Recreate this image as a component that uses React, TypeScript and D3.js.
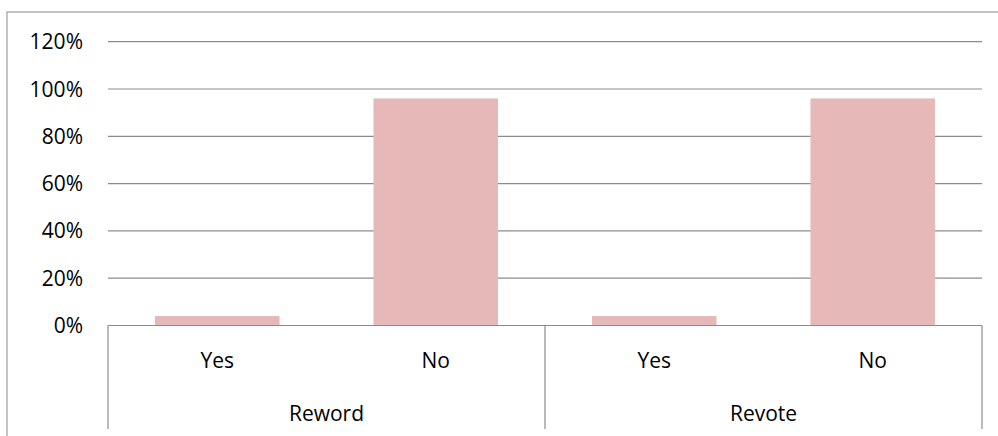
import React from "react";
import * as d3 from "d3";

const groups = ["Reword", "Revote"];
const answers = ["Yes", "No"];
const rewordValues = [0.04, 0.96];
const revoteValues = [0.04, 0.96];
const yTicks = [0, 0.2, 0.4, 0.6, 0.8, 1.0, 1.2];

const W = 998;
const H = 436;
const left = 108;
const right = 982;
const top = 41.7;
const bottom = 325.5;
const font = "'Open Sans', 'Liberation Sans', sans-serif";
const fs = 21;

export default function App() {
  const seriesByGroup = [rewordValues, revoteValues];
  const rows = groups.flatMap((g, gi) =>
    answers.map((a, ai) => ({ key: `${g}-${a}`, group: g, answer: a, value: seriesByGroup[gi][ai] }))
  );
  const x = d3.scaleBand<string>().domain(rows.map((r) => r.key)).range([left, right]).paddingInner(0.43).paddingOuter(0.215);
  const xGroup = d3.scaleBand<string>().domain(groups).range([left, right]);
  const y = d3.scaleLinear().domain([0, 1.2]).range([bottom, top]);
  const fmt = d3.format(".0%");
  const grid = "#8c8c8c";
  const axisBottom = 429;

  return (
    <svg width={W} height={H} style={{ position: "absolute", left: 0, top: 0, background: "#fff" }}>
      <rect x={7} y={12} width={1000} height={440} fill="#fff" stroke={grid} strokeWidth={1} />
      {yTicks.map((t) => (
        <g key={t}>
          {t > 0 && <line x1={left} x2={right} y1={y(t)} y2={y(t)} stroke={grid} strokeWidth={1.2} />}
          <text x={83} y={y(t) + 7.5} textAnchor="end" fontFamily={font} fontSize={fs} fill="#000">
            {fmt(t)}
          </text>
        </g>
      ))}
      {rows.map((r) => (
        <rect key={r.key} x={x(r.key)} y={y(r.value)} width={x.bandwidth()} height={bottom - y(r.value)} fill="#e6b8b7" />
      ))}
      <line x1={left} x2={right} y1={bottom} y2={bottom} stroke={grid} strokeWidth={1.2} />
      {[left, (xGroup(groups[1]) as number), right].map((xx, i) => (
        <line key={i} x1={xx} x2={xx} y1={bottom} y2={axisBottom} stroke={grid} strokeWidth={1.2} />
      ))}
      {rows.map((r) => (
        <text key={r.key + "l"} x={(x(r.key) as number) + x.bandwidth() / 2} y={368} textAnchor="middle" fontFamily={font} fontSize={fs} fill="#000">
          {r.answer}
        </text>
      ))}
      {groups.map((g) => (
        <text key={g} x={(xGroup(g) as number) + xGroup.bandwidth() / 2} y={420.5} textAnchor="middle" fontFamily={font} fontSize={fs} fill="#000">
          {g}
        </text>
      ))}
    </svg>
  );
}
